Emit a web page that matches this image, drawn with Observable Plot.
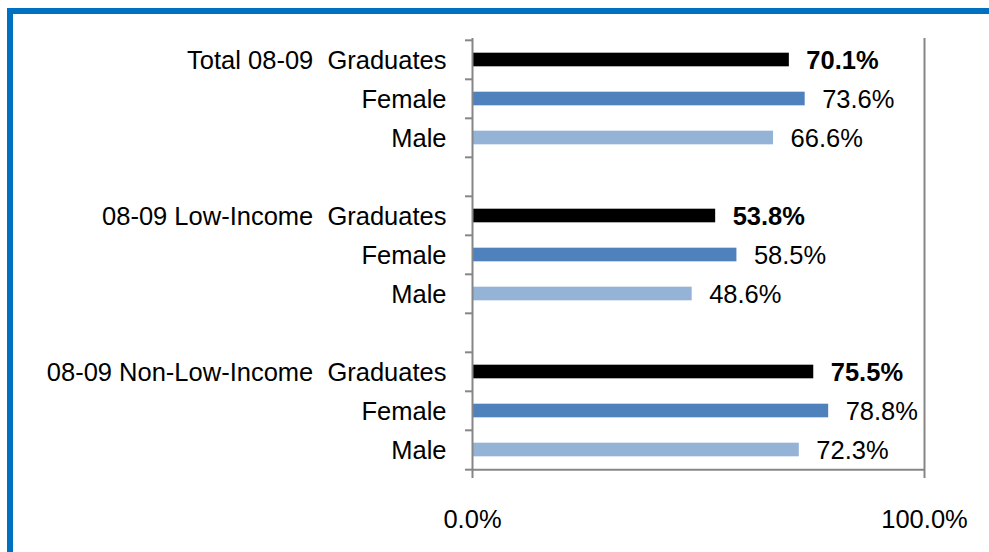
<!DOCTYPE html>
<html>
<head>
<meta charset="utf-8">
<script src="https://cdn.jsdelivr.net/npm/d3@7"></script>
<script src="https://cdn.jsdelivr.net/npm/@observablehq/plot@0.6"></script>
<style>
  html, body { margin: 0; padding: 0; background: #fff; }
  #wrap { position: relative; width: 989px; height: 552px; overflow: hidden; }
  #frame { position: absolute; left: 7px; top: 8px; width: 1200px; height: 800px;
           border-left: 6px solid #0070C0; border-top: 6px solid #0070C0; pointer-events: none; }
  svg text { white-space: pre; }
</style>
</head>
<body>
<div id="wrap"><div id="chart"></div><div id="frame"></div></div>
<script>
const categories = [
  "Total 08-09  Graduates", "Female", "Male", "",
  "08-09 Low-Income  Graduates", "Female", "Male", "",
  "08-09 Non-Low-Income  Graduates", "Female", "Male"
];
const values = [70.1, 73.6, 66.6, null, 53.8, 58.5, 48.6, null, 75.5, 78.8, 72.3];
const kinds = ["total", "female", "male", null, "total", "female", "male", null, "total", "female", "male"];
const xTicks = [0, 100];
const colors = {total: "#000000", female: "#4F81BD", male: "#95B3D7"};

const rows = categories.map((label, i) => ({key: i, label, value: values[i], kind: kinds[i]}));
const bars = rows.filter(d => d.value != null);
const keys = rows.map(d => d.key);

const width = 989, height = 552;
const marginLeft = 472, marginRight = 65, marginTop = 38, marginBottom = 81;
const bw = (height - marginTop - marginBottom) / keys.length;
const barH = 14;
const gray = "#868686";
const fs = 25.5;
const font = "Liberation Sans, Arial, sans-serif";

const chart = Plot.plot({
  width, height, marginLeft, marginRight, marginTop, marginBottom,
  style: {fontFamily: font, fontSize: fs + "px", color: "#000", background: "#fff"},
  x: {domain: [0, 100], label: null},
  y: {domain: keys, padding: 0, label: null},
  marks: [
    Plot.barX(bars, {x: "value", y: "key", fill: d => colors[d.kind],
      insetTop: (bw - barH) / 2, insetBottom: (bw - barH) / 2}),
    Plot.ruleX(xTicks, {stroke: gray, strokeWidth: 2}),
    Plot.ruleY([keys[keys.length - 1]], {y: d => d, dy: bw / 2, stroke: gray, strokeWidth: 2}),
    Plot.axisY({ticks: keys, tickSize: 7, tickFormat: () => "", label: null, dy: -bw / 2, stroke: gray, strokeWidth: 2}),
    Plot.axisY({ticks: [keys[keys.length - 1]], tickSize: 7, tickFormat: () => "", label: null, dy: bw / 2, stroke: gray, strokeWidth: 2}),
    Plot.axisY({ticks: keys, tickSize: 0, tickPadding: 26, label: null, dy: 1, tickFormat: k => categories[k], fontSize: fs, fill: "#000"}),
    Plot.axisX({ticks: xTicks, tickSize: 7, tickFormat: () => "", label: null, stroke: gray, strokeWidth: 2}),
    Plot.axisX({ticks: xTicks, tickSize: 0, tickPadding: 38, label: null, tickFormat: d => d.toFixed(1) + "%", fontSize: fs, fill: "#000"}),
    Plot.text(bars.filter(d => d.kind === "total"), {x: "value", y: "key", text: d => d.value.toFixed(1) + "%",
      dx: 17, dy: 1, textAnchor: "start", fontWeight: "bold", fontSize: fs, fill: "#000"}),
    Plot.text(bars.filter(d => d.kind !== "total"), {x: "value", y: "key", text: d => d.value.toFixed(1) + "%",
      dx: 17, dy: 1, textAnchor: "start", fontSize: fs, fill: "#000"})
  ]
});
document.getElementById("chart").appendChild(chart);
</script>
</body>
</html>
